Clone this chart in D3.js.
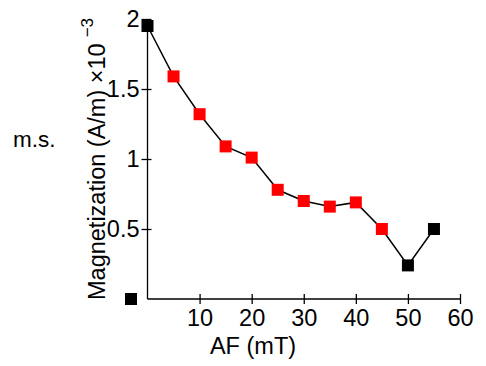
<!DOCTYPE html>
<html>
<head>
<meta charset="utf-8">
<script src="https://cdn.jsdelivr.net/npm/d3@7"></script>
<style>
  html, body { margin: 0; padding: 0; background: #fff; }
  svg { display: block; }
  text { font-family: "Liberation Sans", Arial, Helvetica, sans-serif; fill: #000; }
</style>
</head>
<body>
<svg id="chart" width="486" height="366"></svg>
<script>
// ---- data ----
const afValues = [0, 5, 10, 15, 20, 25, 30, 35, 40, 45, 50, 55];
const magValues = [1.95, 1.59, 1.32, 1.09, 1.01, 0.78, 0.70, 0.66, 0.69, 0.50, 0.24, 0.50];
const pointGroup = ["excluded", "fit", "fit", "fit", "fit", "fit", "fit", "fit", "fit", "fit", "excluded", "excluded"];
const xTickValues = [10, 20, 30, 40, 50, 60];
const yTickValues = [0.5, 1, 1.5, 2];
const yTickLabels = ["0.5", "1", "1.5", "2"];
const legendLabel = "m.s.";
const xTitle = "AF (mT)";
const yTitle = "Magnetization (A/m) \u00d710";
const yTitleExp = "\u22123";

// ---- layout ----
const svg = d3.select("#chart");
const x = d3.scaleLinear().domain([0, 60]).range([147.5, 460]);
const y = d3.scaleLinear().domain([0, 2]).range([299, 19]);
const color = d3.scaleOrdinal().domain(["fit", "excluded"]).range(["#ff0000", "#000000"]);
const sq = 12;
const tickFont = 23.5, labelFont = 23.5;

// x axis
const gx = svg.append("g").attr("transform", `translate(0,${y(0)})`)
  .call(d3.axisBottom(x).tickValues(xTickValues).tickSizeOuter(0).tickSize(5));
gx.select(".domain").attr("d", `M${x(0)},0H${x(60)}`).attr("stroke-width", 1.3);
gx.selectAll(".tick line").attr("y1", -5).attr("y2", 5).attr("stroke-width", 1.3);
gx.selectAll(".tick text").attr("y", 10).attr("font-size", tickFont).attr("font-family", null);

// y axis
const gy = svg.append("g").attr("transform", `translate(${x(0)},0)`)
  .call(d3.axisLeft(y).tickValues(yTickValues).tickFormat((d, i) => yTickLabels[i]).tickSizeOuter(0).tickSize(5));
gy.select(".domain").attr("d", `M0,${y(0)}V${y(2)}`).attr("stroke-width", 1.3);
gy.selectAll(".tick line").attr("x1", -6).attr("x2", 4).attr("stroke-width", 1.3);
gy.selectAll(".tick text").attr("x", -8).attr("font-size", tickFont).attr("font-family", null);

// line
const pts = afValues.map((a, i) => ({ a, m: magValues[i], g: pointGroup[i] }));
svg.append("path").datum(pts)
  .attr("fill", "none").attr("stroke", "#000").attr("stroke-width", 1.5)
  .attr("d", d3.line().x(d => x(d.a)).y(d => y(d.m)));

// squares
svg.selectAll("rect.pt").data(pts).enter().append("rect")
  .attr("class", "pt")
  .attr("x", d => x(d.a) - sq / 2).attr("y", d => y(d.m) - sq / 2)
  .attr("width", sq).attr("height", sq)
  .attr("fill", d => color(d.g));

// legend
svg.append("rect").attr("x", 131 - sq / 2).attr("y", y(0) - sq / 2)
  .attr("width", sq).attr("height", sq).attr("fill", color("excluded"));
svg.append("text").attr("x", 13).attr("y", 147).attr("font-size", 22.5).text(legendLabel);

// axis titles
svg.append("text").attr("x", 253).attr("y", 354).attr("text-anchor", "middle")
  .attr("font-size", 23.5).text(xTitle);

const yt = svg.append("text").attr("transform", "translate(105,300) rotate(-90)")
  .attr("font-size", labelFont);
yt.append("tspan").text(yTitle);
yt.append("tspan").attr("dx", 6).attr("dy", -12).attr("font-size", 17).text(yTitleExp);
</script>
</body>
</html>
